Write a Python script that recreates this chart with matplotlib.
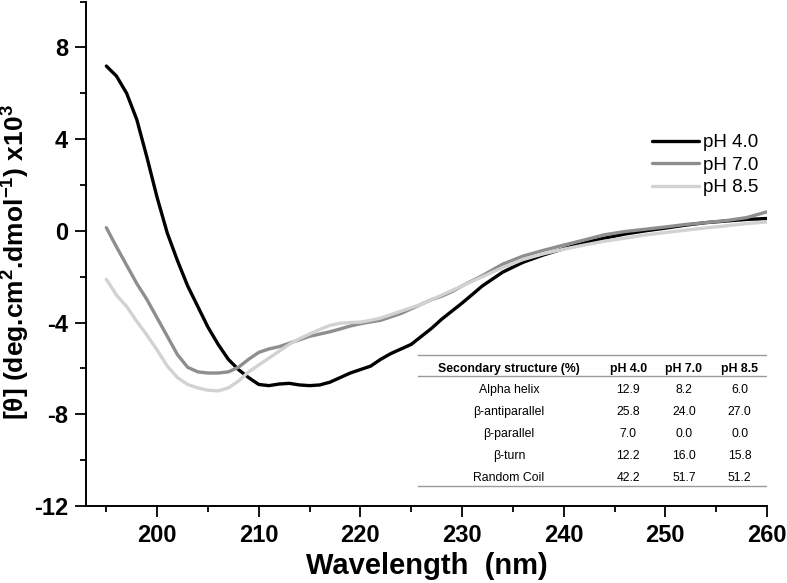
import matplotlib
matplotlib.use("Agg")
import matplotlib.pyplot as plt
from matplotlib.ticker import MultipleLocator

plt.rcParams['font.family'] = ['Liberation Sans', 'DejaVu Sans']
plt.rcParams['mathtext.fontset'] = 'custom'
plt.rcParams['mathtext.bf'] = 'Liberation Sans:bold'
plt.rcParams['mathtext.rm'] = 'Liberation Sans'
plt.rcParams['mathtext.default'] = 'bf'
plt.rcParams['axes.unicode_minus'] = False

# wavelength grid (nm)
wl = list(range(195, 231)) + list(range(232, 261, 2))

# mean residue ellipticity x10^3
ph40 = [7.19, 6.75, 6.0, 4.85, 3.2, 1.45, -0.1, -1.3, -2.4, -3.3,
        -4.2, -4.95, -5.6, -6.05, -6.4, -6.7, -6.75, -6.68, -6.65, -6.72,
        -6.75, -6.72, -6.6, -6.4, -6.2, -6.05, -5.9, -5.6, -5.35, -5.15,
        -4.95, -4.6, -4.25, -3.85, -3.5, -3.15,
        -2.4, -1.8, -1.37, -1.05, -0.78, -0.52, -0.32, -0.14, 0.0, 0.12,
        0.25, 0.36, 0.43, 0.5, 0.54]
ph70 = [0.14, -0.7, -1.5, -2.3, -3.0, -3.8, -4.6, -5.4, -5.95, -6.15,
        -6.2, -6.2, -6.15, -5.95, -5.6, -5.3, -5.15, -5.05, -4.9, -4.75,
        -4.6, -4.5, -4.4, -4.28, -4.15, -4.05, -3.97, -3.9, -3.75, -3.6,
        -3.4, -3.2, -3.0, -2.85, -2.65, -2.4,
        -1.95, -1.45, -1.1, -0.85, -0.62, -0.4, -0.17, -0.03, 0.07, 0.17,
        0.28, 0.36, 0.45, 0.58, 0.83]
ph85 = [-2.11, -2.8, -3.3, -3.95, -4.55, -5.2, -5.9, -6.4, -6.7, -6.85,
        -6.95, -6.98, -6.85, -6.55, -6.15, -5.85, -5.55, -5.25, -4.95, -4.7,
        -4.5, -4.3, -4.12, -4.03, -4.0, -3.98, -3.9, -3.8, -3.65, -3.5,
        -3.35, -3.2, -3.0, -2.8, -2.6, -2.4,
        -2.0, -1.6, -1.25, -1.0, -0.8, -0.62, -0.45, -0.32, -0.18, -0.07,
        0.03, 0.13, 0.22, 0.32, 0.39]

labels = ['pH 4.0', 'pH 7.0', 'pH 8.5']
colors = ['#000000', '#8e8e8e', '#d2d2d2']

# secondary structure table
structures = ['Alpha helix', 'β-antiparallel', 'β-parallel', 'β-turn', 'Random Coil']
tab_ph40 = ['12.9', '25.8', '7.0', '12.2', '42.2']
tab_ph70 = ['8.2', '24.0', '0.0', '16.0', '51.7']
tab_ph85 = ['6.0', '27.0', '0.0', '15.8', '51.2']

fig = plt.figure(figsize=(7.87, 5.83), dpi=100)
ax = fig.add_axes([86/787, 1-506/583, (767-86)/787, (506-1.6)/583])

for y, lab, c in zip([ph40, ph70, ph85], labels, colors):
    ax.plot(wl, y, color=c, lw=2.4, label=lab, solid_capstyle='round')

ax.set_xlim(193, 260)
ax.set_ylim(-12, 10)
ax.set_xticks([200, 210, 220, 230, 240, 250, 260])
ax.xaxis.set_minor_locator(MultipleLocator(5))
ax.set_yticks([-12, -8, -4, 0, 4, 8])
ax.yaxis.set_minor_locator(MultipleLocator(2))
ax.spines['top'].set_visible(False)
ax.spines['right'].set_visible(False)
for s in ['left', 'bottom']:
    ax.spines[s].set_linewidth(1.4)
ax.tick_params(which='major', length=8, width=1.3, labelsize=17, pad=5)
ax.tick_params(which='minor', length=4, width=1.3)
for t in ax.get_xticklabels() + ax.get_yticklabels():
    t.set_fontweight('bold')

ax.set_xlabel('Wavelength  (nm)', fontsize=21, fontweight='bold')
ax.xaxis.set_label_coords(0.5, -0.092)
ax.set_ylabel(r'[θ] (deg.cm$^{2}$.dmol$^{-1}$) x10$^{3}$', fontsize=19,
              fontweight='bold')
ax.yaxis.set_label_coords(-0.08, 0.484)

ax.legend(loc='upper left', bbox_to_anchor=(0.831, 0.737), frameon=False,
          fontsize=13.5, handlelength=2.5, handletextpad=0.2, labelspacing=0.28,
          borderpad=0, borderaxespad=0)

# table drawn in axes fraction
x0, x1 = 0.487, 1.0
col_x = [0.621, 0.796, 0.878, 0.960]
for yl in [0.300, 0.257, 0.040]:
    ax.plot([x0, x1], [yl, yl], transform=ax.transAxes, color='#9a9a9a', lw=1)
header = ['Secondary structure (%)'] + labels
for x, h in zip(col_x, header):
    ax.text(x, 0.272, h, transform=ax.transAxes, ha='center', va='center',
            fontsize=8.8, fontweight='bold')
for i, row in enumerate(zip(structures, tab_ph40, tab_ph70, tab_ph85)):
    yy = 0.229 - i * 0.0435
    for x, v in zip(col_x, row):
        ax.text(x, yy, v, transform=ax.transAxes, ha='center', va='center',
                fontsize=8.8)

fig.savefig('out.png', dpi=100)
